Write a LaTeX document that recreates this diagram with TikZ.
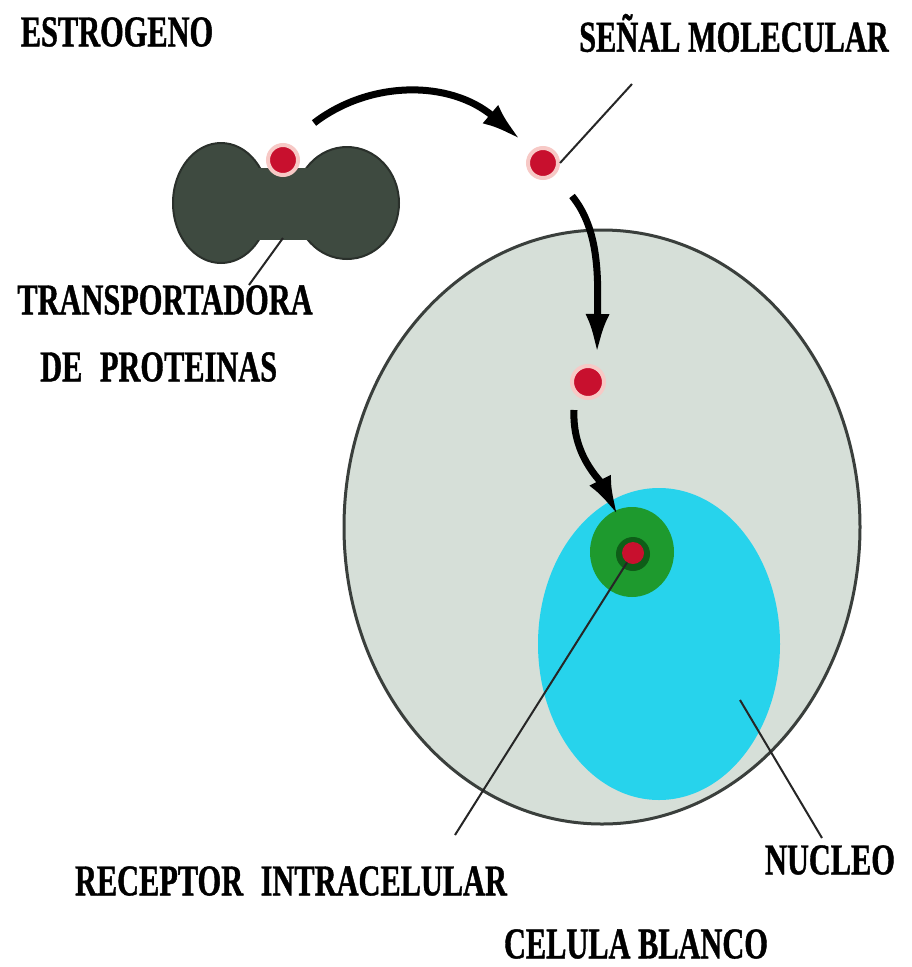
\documentclass[tikz,border=0pt]{standalone}
\usepackage{fontspec}
\setmainfont{Liberation Serif}
\newfontfamily\lblfont[FakeStretch=0.69,FakeBold=0.9]{Liberation Serif Bold}
\usetikzlibrary{arrows.meta,shapes.geometric}
\definecolor{cellfill}{HTML}{D6DFD8}
\definecolor{celledge}{HTML}{3A3F3C}
\definecolor{nucfill}{HTML}{27D3EC}
\definecolor{recgreen}{HTML}{1E9A2E}
\definecolor{recdark}{HTML}{0E5E18}
\definecolor{protfill}{HTML}{3E4A40}
\definecolor{protedge}{HTML}{2A302B}
\definecolor{molred}{HTML}{C8102E}
\definecolor{halo}{HTML}{F7C9C6}
\tikzset{
  lbl/.style={font=\lblfont\fontsize{44}{46}\selectfont, inner sep=0pt, text=black},
  molecule/.style={circle, fill=molred, draw=halo, line width=4pt, minimum size=30pt, inner sep=0pt},
  flow/.style={line width=7pt, -{Latex[length=40pt,width=24pt]}, black},
  leader/.style={line width=2pt, black!85}
}
\begin{document}
\begin{tikzpicture}[x=1pt,y=-1pt]
\useasboundingbox (0,0) rectangle (911,967);
\fill[white] (0,0) rectangle (911,967);

% target cell and nucleus
\node[ellipse, draw=celledge, line width=3pt, fill=cellfill, minimum width=516pt, minimum height=594pt] (cell) at (602,527) {};
\node[ellipse, fill=nucfill, minimum width=242pt, minimum height=312pt] (nucleus) at (659,644) {};

% intracellular receptor
\node[ellipse, fill=recgreen, minimum width=84pt, minimum height=90pt] (receptor) at (632,552) {};
\node[circle, fill=recdark, minimum size=34pt, inner sep=0pt] at (633,554) {};
\node[circle, fill=molred, minimum size=22pt, inner sep=0pt] (m4) at (633,553) {};

% carrier protein: two lobes joined by a waist
\fill[protfill, draw=protedge, line width=2pt] (221,203) ellipse [x radius=48, y radius=60];
\fill[protfill, draw=protedge, line width=2pt] (347,203) ellipse [x radius=52, y radius=56];
\fill[protfill] (255,168) rectangle (315,240);
\fill[white] (286,262) ellipse [x radius=15, y radius=21];
\node[molecule] (m1) at (283,160) {};
\coordinate (prot) at (283,238);

% signal molecules
\node[molecule, minimum size=30pt] (m2) at (543,163) {};
\node[molecule, minimum size=32pt] (m3) at (588,382) {};

% movement arrows
\draw[flow] (314,123) .. controls (370,80) and (450,80) .. (521,140);
\draw[flow] (572,196) .. controls (600,230) and (598,280) .. (597,354);
\draw[flow] (574,410) .. controls (572,455) and (600,480) .. (618,516);

% labels
\node[lbl] (estrogeno) at (117,32) {ESTROGENO};
\node[lbl] (senal) at (734,33) {SEÑAL MOLECULAR};
\node[lbl] (transp) at (165,300) {TRANSPORTADORA};
\node[lbl, anchor=west] (prot2) at (40,367) {DE\hspace{0.4em}PROTEINAS};
\node[lbl] (recept) at (291,881) {RECEPTOR\hspace{0.4em}INTRACELULAR};
\node[lbl] (nucleo) at (830,860) {NUCLEO};
\node[lbl] (celula) at (636,944) {CELULA BLANCO};

% leader lines
\coordinate (senalend) at (632,84);
\coordinate (transpend) at (249,285);
\coordinate (receptend) at (455,835);
\coordinate (nucstart) at (740,700);
\coordinate (nucend) at (822,838);
\draw[leader] (m2.east) -- (senalend);
\draw[leader] (prot) -- (transpend);
\draw[leader] (m4) -- (receptend);
\draw[leader] (nucstart) -- (nucend);
\end{tikzpicture}
\end{document}
